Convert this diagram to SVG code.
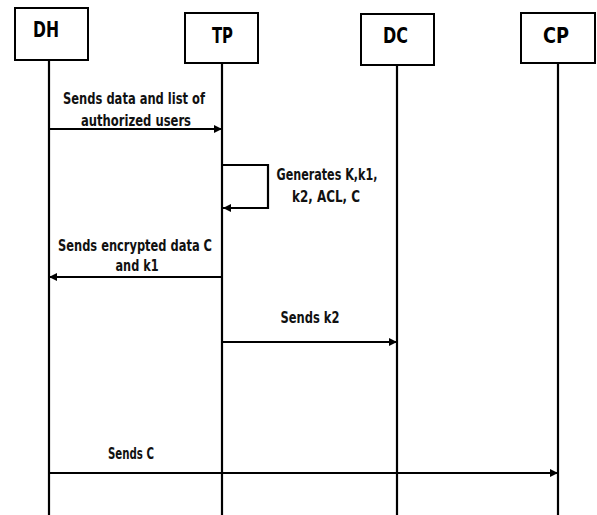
<svg xmlns="http://www.w3.org/2000/svg" width="597" height="515" viewBox="0 0 597 515">
<style>
.box{fill:#fff;stroke:#000;stroke-width:2}
.life{stroke:#000;stroke-width:2.2;fill:none}
.msg{stroke:#000;stroke-width:2.2;fill:none;marker-end:url(#ah)}
.hd{font-family:"DejaVu Sans Condensed","DejaVu Sans",sans-serif;font-weight:bold;font-size:21px;text-anchor:middle;fill:#000}
.lb{font-family:"DejaVu Sans Condensed","DejaVu Sans",sans-serif;font-weight:bold;font-size:15px;text-anchor:middle;fill:#111}
</style>
<defs>
<marker id="ah" viewBox="0 0 10 10" refX="10" refY="5" markerWidth="10" markerHeight="8" markerUnits="userSpaceOnUse" orient="auto">
<path d="M0,0 L10,5 L0,10 z" fill="#000"/>
</marker>
</defs>
<rect width="597" height="515" fill="#fff"/>
<g id="connectors">
<line class="life" x1="49" y1="60" x2="49" y2="515"/>
<line class="life" x1="222" y1="63" x2="222" y2="515"/>
<line class="life" x1="397" y1="65" x2="397" y2="515"/>
<line class="life" x1="558" y1="63" x2="558" y2="515"/>
<line class="msg" x1="49" y1="129" x2="222" y2="129"/>
<text class="lb" x="134" y="104" textLength="142" lengthAdjust="spacingAndGlyphs">Sends data and list of</text>
<text class="lb" x="136" y="126" textLength="110" lengthAdjust="spacingAndGlyphs">authorized users</text>
<path class="msg" d="M222,165 H268 V208 H223"/>
<text class="lb" x="327" y="180" textLength="101" lengthAdjust="spacingAndGlyphs">Generates K,k1,</text>
<text class="lb" x="326" y="202" textLength="68" lengthAdjust="spacingAndGlyphs">k2, ACL, C</text>
<line class="msg" x1="222" y1="277" x2="49" y2="277"/>
<text class="lb" x="135" y="251" textLength="154" lengthAdjust="spacingAndGlyphs">Sends encrypted data C</text>
<text class="lb" x="137" y="271" textLength="43" lengthAdjust="spacingAndGlyphs">and k1</text>
<line class="msg" x1="222" y1="342" x2="397" y2="342"/>
<text class="lb" x="310" y="323" textLength="59" lengthAdjust="spacingAndGlyphs">Sends k2</text>
<line class="msg" x1="49" y1="473" x2="558" y2="473"/>
<text class="lb" x="131" y="459" textLength="46" lengthAdjust="spacingAndGlyphs">Sends C</text>
</g>
<g id="DH"><rect class="box" x="15" y="8" width="73" height="52"/><text class="hd" x="46" y="37" textLength="26" lengthAdjust="spacingAndGlyphs">DH</text></g>
<g id="TP"><rect class="box" x="185" y="13" width="73" height="50"/><text class="hd" x="222.5" y="43" textLength="21" lengthAdjust="spacingAndGlyphs">TP</text></g>
<g id="DC"><rect class="box" x="361" y="14" width="73" height="51"/><text class="hd" x="395.5" y="43" textLength="25" lengthAdjust="spacingAndGlyphs">DC</text></g>
<g id="CP"><rect class="box" x="521" y="13" width="74" height="50"/><text class="hd" x="556" y="43" textLength="26" lengthAdjust="spacingAndGlyphs">CP</text></g>
</svg>
